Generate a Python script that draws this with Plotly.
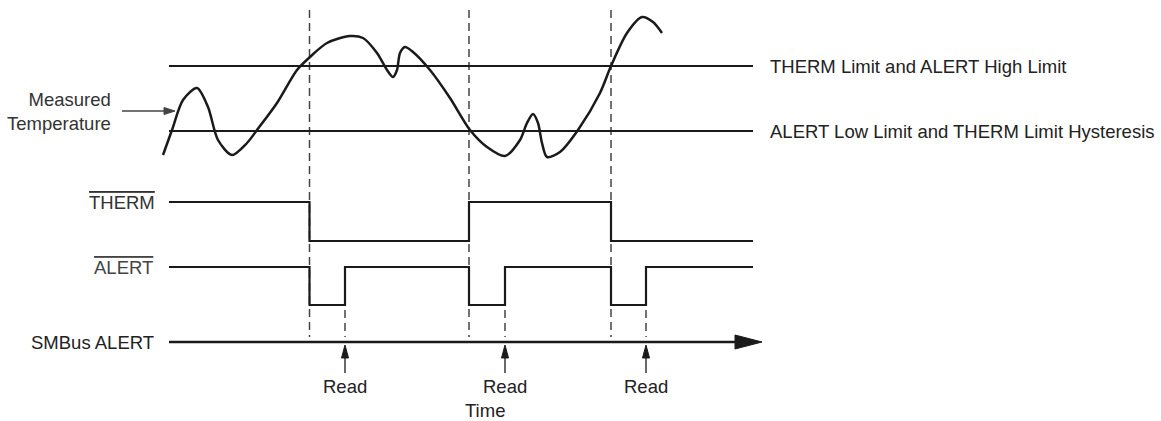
import plotly.graph_objects as go

# ---------------- data ----------------
# time axis (horizontal position units) and signal levels (vertical units, top = 0)
t_start, t_end = 169, 753
therm_limit_level = 66          # THERM Limit and ALERT High Limit
alert_low_level = 131           # ALERT Low Limit and THERM Limit Hysteresis
crossing_times = [309.5, 469, 611]   # temperature crosses a limit
read_times = [345, 505, 646]         # host reads the device

therm_high, therm_low = 202, 241
therm_t = [169, 309.5, 469, 611, 753]
therm_state = [1, 0, 1, 0, 0]

alert_high, alert_low = 267, 305
alert_t = [169, 309.5, 345, 469, 505, 611, 646, 753]
alert_state = [1, 0, 1, 0, 1, 0, 1, 1]

smbus_level = 342
smbus_end = 762

# measured temperature curve
temp_t = [163, 172, 183, 197, 208, 218, 232, 247, 257, 277, 297, 310, 327, 350,
          363, 377, 387, 393, 397, 400, 405, 413, 430, 450, 470, 487, 505, 520,
          527, 533, 538, 542, 547, 560, 578, 600, 611, 627, 642, 653, 662]
temp_v = [155, 130, 100, 88, 107, 140, 155, 143, 130, 103, 70, 57, 43, 36,
          38, 53, 70, 77, 70, 53, 47, 52, 70, 98, 130, 147, 156, 140,
          123, 114, 123, 143, 157, 152, 130, 93, 66, 33, 17, 22, 33]

left_labels = ["Measured<br>Temperature", "THERM", "ALERT", "SMBus ALERT"]
right_labels = ["THERM Limit and ALERT High Limit",
                "ALERT Low Limit and THERM Limit Hysteresis"]

INK = "#1a1a1a"
FONT = "Liberation Sans, Arial, sans-serif"
FS = 18.5


def steps(ts, states, hi, lo):
    return ts, [hi if s else lo for s in states]


fig = go.Figure()

# dashed guide lines at limit crossings
for ct in crossing_times:
    fig.add_trace(go.Scatter(x=[ct, ct], y=[10, 337], mode="lines",
                             line=dict(color="#444", width=1.5, dash="8px,5px"),
                             hoverinfo="skip", showlegend=False))
# dashed guide lines at reads
for rt in read_times:
    fig.add_trace(go.Scatter(x=[rt, rt], y=[alert_low + 5, 337], mode="lines",
                             line=dict(color="#444", width=1.5, dash="8px,5px"),
                             hoverinfo="skip", showlegend=False))

# limit lines
for lvl in [therm_limit_level, alert_low_level]:
    fig.add_trace(go.Scatter(x=[t_start, t_end], y=[lvl, lvl], mode="lines",
                             line=dict(color=INK, width=2), hoverinfo="skip",
                             showlegend=False))

# temperature curve
fig.add_trace(go.Scatter(x=temp_t, y=temp_v, mode="lines",
                         line=dict(color=INK, width=2.5, shape="spline", smoothing=0.8),
                         hoverinfo="skip", showlegend=False))

# THERM and ALERT digital signals
x, y = steps(therm_t, therm_state, therm_high, therm_low)
fig.add_trace(go.Scatter(x=x, y=y, mode="lines", line=dict(color=INK, width=2.2, shape="hv"),
                         hoverinfo="skip", showlegend=False))
x, y = steps(alert_t, alert_state, alert_high, alert_low)
fig.add_trace(go.Scatter(x=x, y=y, mode="lines", line=dict(color=INK, width=2.2, shape="hv"),
                         hoverinfo="skip", showlegend=False))

# SMBus ALERT time axis with arrow head
head_len, head_half = 27, 7
fig.add_trace(go.Scatter(x=[t_start, smbus_end - head_len + 2], y=[smbus_level, smbus_level],
                         mode="lines", line=dict(color=INK, width=2.6),
                         hoverinfo="skip", showlegend=False))
fig.add_trace(go.Scatter(x=[smbus_end - head_len, smbus_end, smbus_end - head_len, smbus_end - head_len],
                         y=[smbus_level - head_half, smbus_level, smbus_level + head_half, smbus_level - head_half],
                         mode="lines", fill="toself", fillcolor=INK, line=dict(color=INK, width=1),
                         hoverinfo="skip", showlegend=False))

# Read arrows
r_tip, r_base, r_head, r_half = smbus_level + 3, 373, 13, 3.5
for rt in read_times:
    fig.add_trace(go.Scatter(x=[rt, rt], y=[r_tip + r_head - 1, r_base], mode="lines",
                             line=dict(color=INK, width=1.3), hoverinfo="skip", showlegend=False))
    fig.add_trace(go.Scatter(x=[rt - r_half, rt, rt + r_half, rt - r_half],
                             y=[r_tip + r_head, r_tip, r_tip + r_head, r_tip + r_head],
                             mode="lines", fill="toself", fillcolor=INK, line=dict(color=INK, width=1),
                             hoverinfo="skip", showlegend=False))
    fig.add_annotation(x=rt, y=386, text="Read", showarrow=False,
                       font=dict(family=FONT, size=FS, color="#222"),
                       xanchor="center", yanchor="middle")

# Measured Temperature pointer arrow
m_y, m_from, m_to, m_head, m_half = 111, 122, 175, 11, 3.5
fig.add_trace(go.Scatter(x=[m_from, m_to - m_head + 1], y=[m_y, m_y], mode="lines",
                         line=dict(color="#444", width=1.3), hoverinfo="skip", showlegend=False))
fig.add_trace(go.Scatter(x=[m_to - m_head, m_to, m_to - m_head, m_to - m_head],
                         y=[m_y - m_half, m_y, m_y + m_half, m_y - m_half],
                         mode="lines", fill="toself", fillcolor="#444", line=dict(color="#444", width=1),
                         hoverinfo="skip", showlegend=False))

# text labels
fig.add_annotation(x=113, y=111, text=left_labels[0], showarrow=False, align="right",
                   xanchor="right", yanchor="middle",
                   font=dict(family=FONT, size=FS, color="#333"))
fig.add_annotation(x=157, y=therm_high, text='<span style="text-decoration:overline">' + left_labels[1] + '</span>',
                   showarrow=False, xanchor="right", yanchor="middle",
                   font=dict(family=FONT, size=FS, color="#333"))
fig.add_annotation(x=155, y=alert_high, text='<span style="text-decoration:overline">' + left_labels[2] + '</span>',
                   showarrow=False, xanchor="right", yanchor="middle",
                   font=dict(family=FONT, size=FS, color="#444"))
fig.add_annotation(x=156, y=smbus_level, text=left_labels[3], showarrow=False,
                   xanchor="right", yanchor="middle",
                   font=dict(family=FONT, size=FS, color="#222"))
for lbl, lvl in zip(right_labels, [therm_limit_level, alert_low_level]):
    fig.add_annotation(x=768, y=lvl, text=lbl, showarrow=False, xanchor="left", yanchor="middle",
                       font=dict(family=FONT, size=FS, color="#222"))
fig.add_annotation(x=485, y=410, text="Time", showarrow=False, xanchor="center", yanchor="middle",
                   font=dict(family=FONT, size=FS, color="#222"))

fig.update_layout(width=1161, height=421, margin=dict(l=0, r=0, t=0, b=0),
                  paper_bgcolor="white", plot_bgcolor="white", showlegend=False,
                  xaxis=dict(range=[0, 1161], visible=False, fixedrange=True),
                  yaxis=dict(range=[421, 0], visible=False, fixedrange=True))

fig.write_html("out.html", config={"displayModeBar": False},
               post_script="document.body.style.margin='0px';document.body.style.overflow='hidden';")
